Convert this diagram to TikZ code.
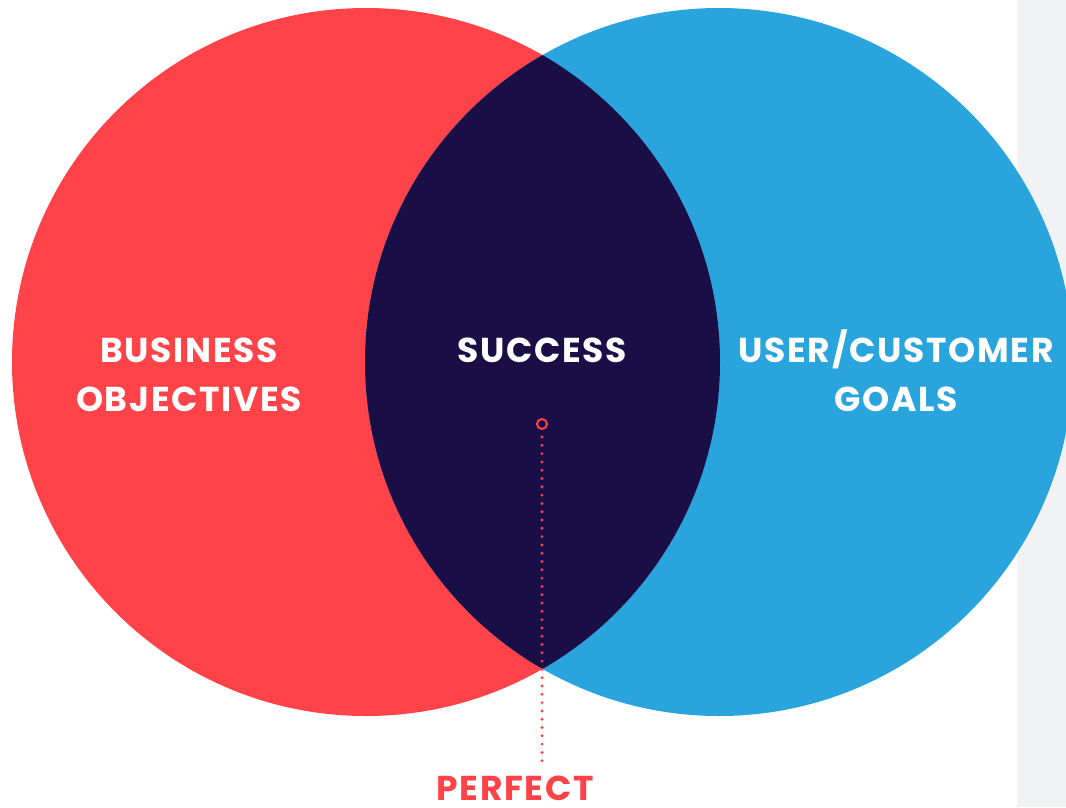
\documentclass[tikz,border=0pt]{standalone}
\usepackage{fontspec}
\setmainfont{Poppins}
\newfontfamily\vennfont[LetterSpace=5]{Poppins}

\definecolor{bizred}{HTML}{FF4349}
\definecolor{userblue}{HTML}{29A4DD}
\definecolor{lensnavy}{HTML}{190F46}
\definecolor{sidegray}{HTML}{F1F2F4}

\tikzset{
  venntext/.style={font=\vennfont\bfseries\fontsize{34.5}{49}\selectfont, align=center, inner sep=0pt, anchor=base},
}

\begin{document}
\begin{tikzpicture}[x=1pt, y=-1pt]
\useasboundingbox (0,0) rectangle (1066,807);
% grey strip at the right edge
\fill[sidegray] (1017,0) rectangle (1066,807);
% the two sets
\fill[bizred] (366,362) circle[radius=354pt];
\fill[userblue] (719,362) circle[radius=354pt];
% overlap
\begin{scope}
\clip (366,362) circle[radius=354pt];
\fill[lensnavy] (719,362) circle[radius=354pt];
\end{scope}
% base of a two line node is its last line
\node[venntext, text=white] (business) at (189,411) {BUSINESS\\OBJECTIVES};
\node[venntext, text=white] (success) at (542,362) {SUCCESS};
\node[venntext, text=white] (user) at (896,411) {USER/CUSTOMER\\GOALS};
% marker and dotted leader
\node[circle, draw=bizred, line width=2pt, minimum size=10pt, inner sep=0pt] (pin) at (542,424) {};
\coordinate (leaderend) at (542,767);
\draw[bizred, line width=3.2pt, line cap=round, dash pattern=on 0pt off 8.3pt] ([yshift=-7pt]pin.south) -- (leaderend);
\node[venntext, text=bizred] (perfect) at (515,800) {PERFECT};
\end{tikzpicture}
\end{document}
